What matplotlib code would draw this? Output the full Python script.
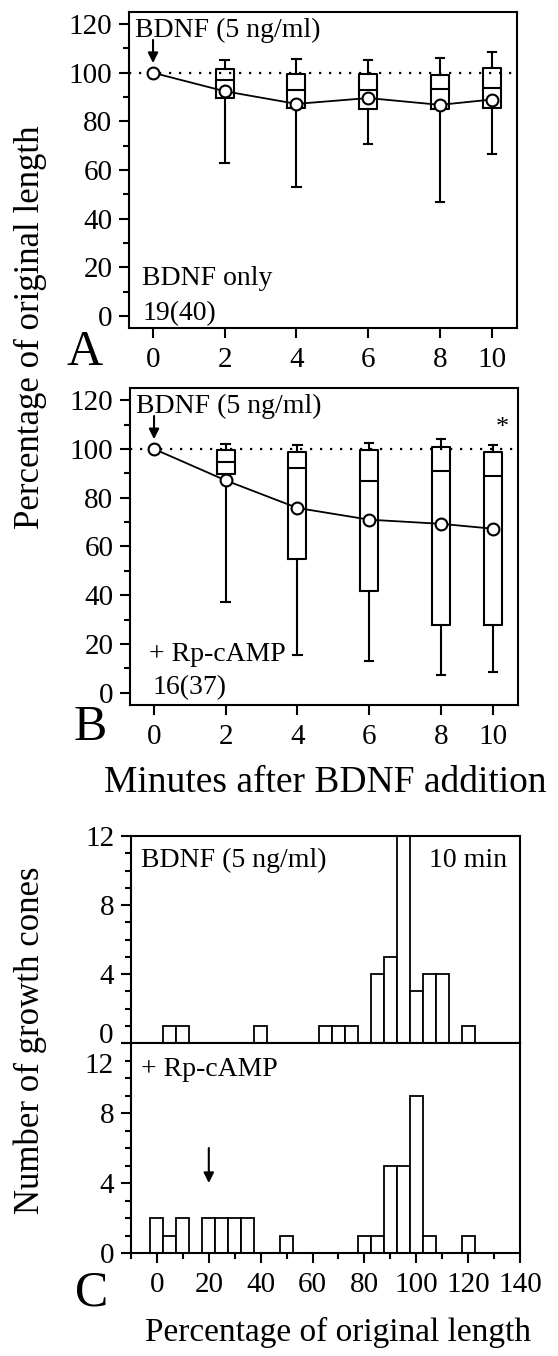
import matplotlib

matplotlib.use("Agg")
import matplotlib.pyplot as plt
from matplotlib.ticker import MultipleLocator

plt.rcParams["font.family"] = ["Liberation Serif", "DejaVu Serif"]

# ---- data ----------------------------------------------------------------
minutes = [0, 2, 4, 6, 8, 10]

# A: BDNF only, means (circles) and box statistics for 2..10 min
a_mean = [100, 92.4, 87.2, 89.6, 86.8, 89.0]
a_whishi = [105.3, 105.8, 105.1, 106.2, 108.5]
a_q3 = [101.6, 99.3, 99.3, 98.9, 102.1]
a_med = [97.1, 93.0, 93.0, 93.4, 93.7]
a_q1 = [89.7, 85.6, 85.0, 85.2, 85.4]
a_whislo = [63.0, 53.2, 70.8, 46.8, 66.7]

# B: + Rp-cAMP
b_mean = [100, 87.1, 75.8, 71.0, 69.3, 67.3]
b_whishi = [102.2, 101.5, 102.5, 104.1, 101.5]
b_q3 = [99.7, 98.8, 99.4, 100.8, 98.6]
b_med = [94.8, 92.2, 86.7, 90.8, 88.8]
b_q1 = [89.9, 54.9, 41.6, 27.7, 27.7]
b_whislo = [37.3, 15.7, 13.2, 7.1, 8.5]

# C: histograms at 10 min (bin centres, 5 % bins)
c1_bins = [5, 10, 40, 65, 70, 75, 85, 90, 95, 100, 105, 110, 120]
c1_counts = [1, 1, 1, 1, 1, 1, 4, 5, 13, 3, 4, 4, 1]
c2_bins = [0, 5, 10, 20, 25, 30, 35, 50, 80, 85, 90, 95, 100, 105, 120]
c2_counts = [2, 1, 2, 2, 2, 2, 2, 1, 1, 1, 5, 5, 9, 1, 1]

# x placement of the time points (the last one sits closer in the original)
x_pos = [0, 2, 4, 6, 8, 9.45]

TICK = 21
TXT = 20
LW = 1.5

fig = plt.figure(figsize=(5.58, 13.56), dpi=100)
W, H = 558, 1356


def add_axes(left, top, right, bottom):
    return fig.add_axes([left / W, 1 - bottom / H, (right - left) / W, (bottom - top) / H])


def box_panel(ax, mean, whishi, q3, med, q1, whislo):
    stats = [
        dict(med=m, q1=lo, q3=hi, whislo=wl, whishi=wh, fliers=[])
        for m, lo, hi, wl, wh in zip(med, q1, q3, whislo, whishi)
    ]
    props = dict(color="k", lw=LW)
    ax.bxp(stats, positions=x_pos[1:], widths=0.5, capwidths=0.24,
           showfliers=False, manage_ticks=False,
           boxprops=props, whiskerprops=props, capprops=props,
           medianprops=props)
    ax.axhline(100, color="k", lw=1.6, ls=(0, (1, 3.5)), zorder=1)
    ax.plot(x_pos, mean, "-o", color="k", lw=1.3, ms=8.5, mfc="white",
            mec="k", mew=1.5, zorder=5)
    ax.set_xlim(-0.67, 10.15)
    ax.set_ylim(-5, 125)
    ax.set_xticks(x_pos)
    ax.set_xticklabels([str(m) for m in minutes])
    ax.set_yticks(range(0, 121, 20))
    ax.yaxis.set_minor_locator(MultipleLocator(10))
    ax.tick_params(direction="out", length=7, width=LW, labelsize=TICK, pad=5)
    ax.tick_params(axis="x", pad=7)
    ax.tick_params(which="minor", direction="out", length=4, width=LW)
    for s in ax.spines.values():
        s.set_linewidth(LW)
    ax.annotate("", xy=(0, 104), xytext=(0, 113.5),
                arrowprops=dict(arrowstyle="-|>", color="k", lw=1.5,
                                mutation_scale=15, shrinkA=0, shrinkB=0))
    ax.text(-0.5, 117.5, "BDNF (5 ng/ml)", fontsize=TXT, va="center")


# ---- panel A ----
axA = add_axes(129, 12, 517, 328)
box_panel(axA, a_mean, a_whishi, a_q3, a_med, a_q1, a_whislo)
axA.text(-0.3, 15.3, "BDNF only", fontsize=TXT, va="center")
axA.text(-0.28, 1.0, "19(40)", fontsize=TXT, va="center")

# ---- panel B ----
axB = add_axes(130, 388, 518, 705)
box_panel(axB, b_mean, b_whishi, b_q3, b_med, b_q1, b_whislo)
axB.text(-0.15, 15.7, "+ Rp-cAMP", fontsize=TXT, va="center")
axB.text(-0.05, 2.2, "16(37)", fontsize=TXT, va="center")
axB.text(9.72, 108.5, "*", fontsize=19, ha="center", va="center")

# ---- panel C ----
axC1 = add_axes(131, 836, 520, 1043)
axC2 = add_axes(131, 1043, 520, 1253)
for ax, bins, counts in ((axC1, c1_bins, c1_counts), (axC2, c2_bins, c2_counts)):
    ax.bar(bins, counts, width=5, color="white", edgecolor="k", lw=1.3)
    ax.set_xlim(-10, 140)
    ax.set_ylim(0, 12)
    ax.set_yticks([0, 4, 8, 12])
    ax.xaxis.set_major_locator(MultipleLocator(20))
    ax.xaxis.set_minor_locator(MultipleLocator(10))
    ax.yaxis.set_minor_locator(MultipleLocator(1))
    ax.tick_params(direction="out", length=7, width=LW, labelsize=TICK, pad=5)
    ax.tick_params(axis="x", pad=7)
    ax.tick_params(which="minor", direction="out", length=4, width=LW)
    for s in ax.spines.values():
        s.set_linewidth(LW)

axC1.set_yticklabels(["", "4", "8", "12"])
axC1.tick_params(axis="x", which="both", bottom=False, labelbottom=False)
axC2.set_yticklabels(["0", "4", "8", ""])
tr1 = axC1.get_yaxis_transform()
tr2 = axC2.get_yaxis_transform()
axC1.text(-0.045, 0.4, "0", fontsize=TICK, ha="right", va="center", transform=tr1)
axC2.text(-0.045, 10.7, "12", fontsize=TICK, ha="right", va="center", transform=tr2)

axC1.text(-6, 10.6, "BDNF (5 ng/ml)", fontsize=TXT, va="center")
axC1.text(135, 10.6, "10 min", fontsize=TXT, va="center", ha="right")
axC2.text(-6, 10.5, "+ Rp-cAMP", fontsize=TXT, va="center")
axC2.annotate("", xy=(20, 4.0), xytext=(20, 6.0),
              arrowprops=dict(arrowstyle="-|>", color="k", lw=1.5,
                              mutation_scale=15, shrinkA=0, shrinkB=0))

# ---- labels ----
fig.text(30 / W, 1 - 327 / H, "Percentage of original length", rotation=90,
         fontsize=25, ha="center", va="center")
fig.text(325 / W, 1 - 783 / H, "Minutes after BDNF addition",
         fontsize=27, ha="center", va="center")
fig.text(30 / W, 1 - 1040 / H, "Number of growth cones", rotation=90,
         fontsize=25, ha="center", va="center")
fig.text(338 / W, 1 - 1332 / H, "Percentage of original length",
         fontsize=24, ha="center", va="center")
fig.text(85 / W, 1 - 353 / H, "A", fontsize=36, ha="center", va="center")
fig.text(90 / W, 1 - 728 / H, "B", fontsize=36, ha="center", va="center")
fig.text(92 / W, 1 - 1293 / H, "C", fontsize=36, ha="center", va="center")

fig.savefig("out.png", dpi=100)
